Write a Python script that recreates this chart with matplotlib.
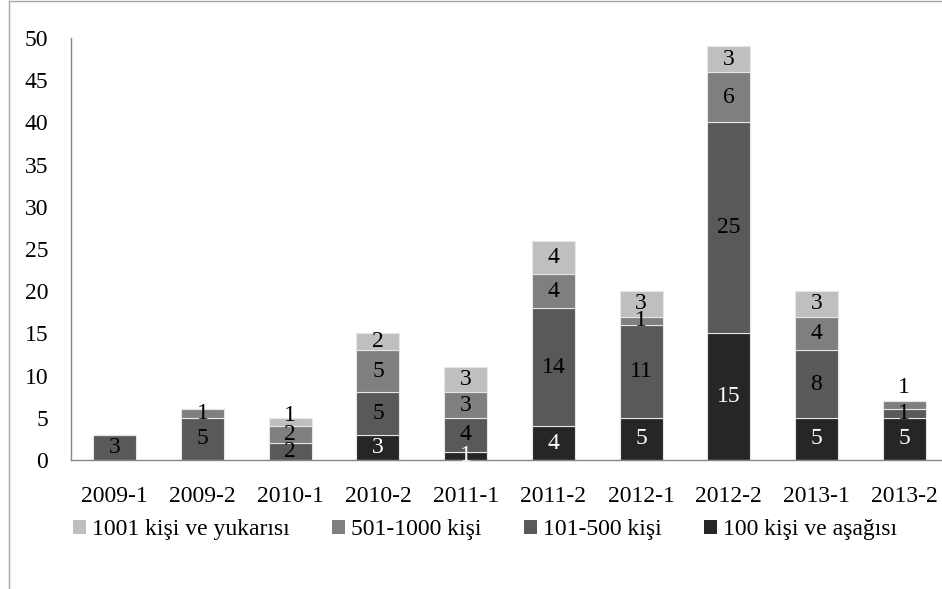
import numpy as np
import matplotlib
matplotlib.use("Agg")
import matplotlib.pyplot as plt
from matplotlib.lines import Line2D
from matplotlib.patches import Patch

plt.rcParams['font.family'] = ['Liberation Serif', 'DejaVu Serif']

# Data
periods = ["2009-1", "2009-2", "2010-1", "2010-2", "2011-1",
           "2011-2", "2012-1", "2012-2", "2013-1", "2013-2"]
s_100 = [0, 0, 0, 3, 1, 4, 5, 15, 5, 5]
s_101_500 = [3, 5, 2, 5, 4, 14, 11, 25, 8, 1]
s_501_1000 = [0, 1, 2, 5, 3, 4, 1, 6, 4, 1]
s_1001 = [0, 0, 1, 2, 3, 4, 3, 3, 3, 0]

series_names = ["100 kişi ve aşağısı", "101-500 kişi", "501-1000 kişi",
                "1001 kişi ve yukarısı"]
series = [s_100, s_101_500, s_501_1000, s_1001]
colors = ["#262626", "#595959", "#7f7f7f", "#bfbfbf"]
label_colors = ["white", "black", "black", "black"]

# labels that were moved by hand in the original chart (bar, series): shift
moved = {(9, 2): 2.1, (2, 3): 0.8}

fig = plt.figure(figsize=(9.42, 5.89), dpi=100)
# axes: left 71px, right beyond canvas (~948px), bottom y=460px, top 38px
W, H = 942, 589
ax = fig.add_axes([71 / W, 1 - 460 / H, (948 - 71) / W, (460 - 38) / H])

x = np.arange(len(periods))
bottom = np.zeros(len(periods))
for k, (vals, c) in enumerate(zip(series, colors)):
    vals = np.array(vals, dtype=float)
    ax.bar(x, vals, width=0.49, bottom=bottom, color=c,
           edgecolor="#e6e6e6", linewidth=0.8)
    for i, v in enumerate(vals):
        if v <= 0:
            continue
        ypos = bottom[i] + v / 2
        if (i, k) in moved:
            ypos = bottom[i] + v / 2 + moved[(i, k)]
        ax.text(x[i], ypos, f"{int(v)}", ha="center", va="center",
                fontsize=17, color=label_colors[k])
    bottom += vals

ax.set_xlim(-0.5, len(periods) - 0.5)
ax.set_ylim(0, 50)
ax.set_yticks(np.arange(0, 51, 5))
ax.set_xticks(x)
ax.set_xticklabels(periods)
ax.tick_params(axis="both", length=0, labelsize=17)
ax.tick_params(axis="y", pad=16.5)
ax.tick_params(axis="x", pad=19)
for side in ["top", "right"]:
    ax.spines[side].set_visible(False)
for side in ["left", "bottom"]:
    ax.spines[side].set_color("#868686")
    ax.spines[side].set_linewidth(1.0)

# legend in reverse order
handles = [Patch(facecolor=colors[k], edgecolor="none") for k in [3, 2, 1, 0]]
labels = [series_names[k] for k in [3, 2, 1, 0]]
fig.legend(handles, labels, loc="center left", bbox_to_anchor=(73 / W, 1 - 530 / H),
           ncol=4, frameon=False, fontsize=17, handlelength=0.55, handleheight=0.55,
           handletextpad=0.25, columnspacing=1.8, borderaxespad=0, borderpad=0)

# chart area border (left and top)
fig.add_artist(Line2D([9 / W, 9 / W], [0, 1 - 1 / H], color="#a6a6a6", lw=1.0,
                      transform=fig.transFigure))
fig.add_artist(Line2D([9 / W, 1], [1 - 1 / H, 1 - 1 / H], color="#a6a6a6", lw=1.0,
                      transform=fig.transFigure))

fig.savefig("out.png", dpi=100)
